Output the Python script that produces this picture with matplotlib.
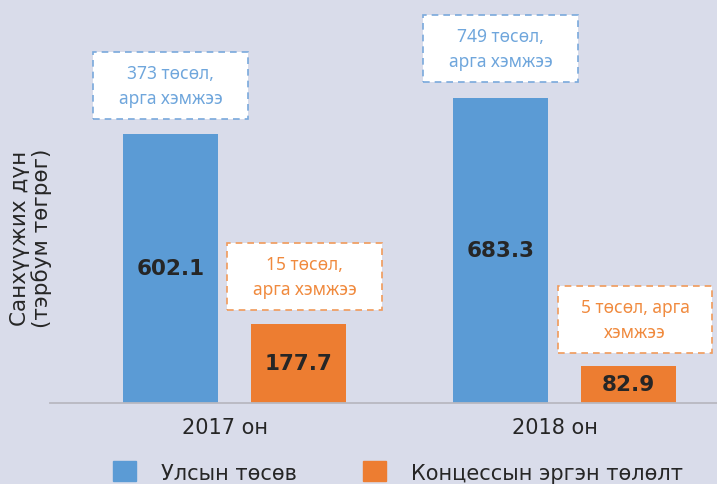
import matplotlib.pyplot as plt
from matplotlib.patches import Rectangle, Patch
import numpy as np

plt.rcParams['font.family'] = ['DejaVu Sans']

# data
years = ['2017 он', '2018 он']
budget = [602.1, 683.3]        # Улсын төсөв
concession = [177.7, 82.9]     # Концессын эргэн төлөлт
budget_notes = ['373 төсөл,\nарга хэмжээ', '749 төсөл,\nарга хэмжээ']
concession_notes = ['15 төсөл,\nарга хэмжээ', '5 төсөл, арга\nхэмжээ']
series_names = ['Улсын төсөв', 'Концессын эргэн төлөлт']

bg = '#d9dcea'
blue = '#5b9bd5'
orange = '#ed7d31'
blue_txt = '#6fa6dc'
orange_txt = '#f08a3e'
dark = '#262626'

fig = plt.figure(figsize=(7.17, 4.85), dpi=100, facecolor=bg)
ax = fig.add_axes([50 / 717, 81 / 485, 667 / 717, 404 / 485])
ax.set_facecolor(bg)

x = np.arange(len(years))
w = 0.288
off = 0.194
ax.bar(x - off, budget, w, color=blue, zorder=2)
ax.bar(x + off, concession, w, color=orange, zorder=2)

ax.set_xlim(-0.559, 1.462)
ax.set_ylim(0, 904)

# values inside the bars
for xi, v in zip(x - off, budget):
    ax.text(xi, v / 2, f'{v:.1f}', ha='center', va='center', fontsize=15.5,
            fontweight='bold', color=dark)
for xi, v in zip(x + off, concession):
    ax.text(xi, v / 2, f'{v:.1f}', ha='center', va='center', fontsize=15.5,
            fontweight='bold', color=dark)

# dashed note boxes above the bars
box_w = 0.467
box_h = 150
def note(xc, top, txt, edge, tcol, gap=34):
    y0 = top + gap
    ax.add_patch(Rectangle((xc - box_w / 2, y0), box_w, box_h, facecolor='white',
                           edgecolor=edge, linestyle=(0, (4, 3)), linewidth=1.2,
                           zorder=3, clip_on=False))
    ax.text(xc, y0 + box_h / 2, txt, ha='center', va='center', fontsize=12.5,
            color=tcol, linespacing=1.5, zorder=4, family=['Noto Sans', 'DejaVu Sans'])

for xi, v, t in zip(x - off, budget, budget_notes):
    note(xi, v, t, '#7aa9dc', blue_txt)
for xi, v, t, dx in zip(x + off, concession, concession_notes, [0.018, 0.02]):
    note(xi + dx, v, t, '#f09a5a', orange_txt, gap=30)

for s in ['top', 'right', 'left']:
    ax.spines[s].set_visible(False)
ax.spines['bottom'].set_color('#b8b8c0')
ax.spines['bottom'].set_linewidth(1.3)
ax.set_yticks([])
ax.set_xticks(x - 0.03)
ax.set_xticklabels(years, fontsize=15, color=dark)
ax.tick_params(axis='x', length=0, pad=10)

fig.text(31 / 717, 1 - 238 / 485, 'Санхүүжих дүн\n(тэрбум төгрөг)', rotation=90,
         ha='center', va='center', fontsize=15.5, color=dark, linespacing=1.05)

handles = [Patch(color=blue), Patch(color=orange)]
fig.legend(handles, series_names, loc='center', bbox_to_anchor=(398 / 717, 1 - 473 / 485),
           ncol=2, frameon=False, fontsize=15, handlelength=1.1, handleheight=1.1,
           handletextpad=1.2, columnspacing=3.2, labelcolor=dark)

fig.savefig('out.png', dpi=100, facecolor=bg)
